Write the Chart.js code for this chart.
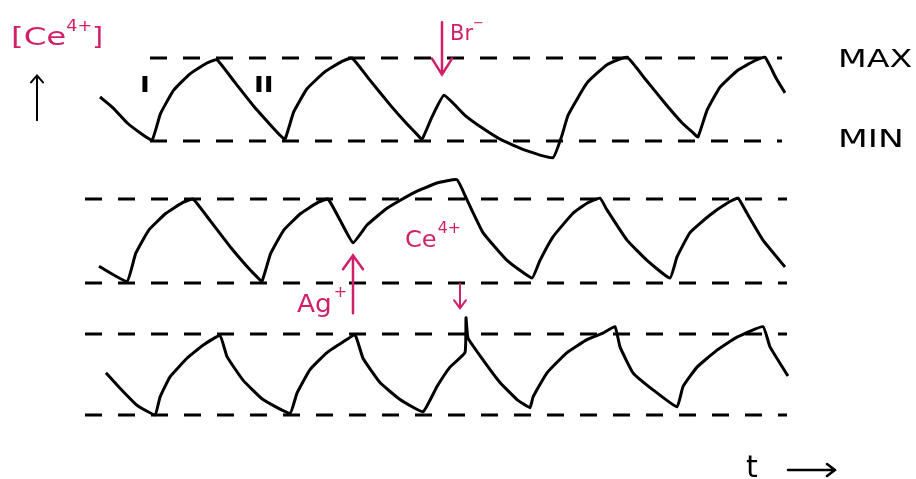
<!DOCTYPE html>
<html>
<head>
<meta charset="utf-8">
<title>[Ce4+] oscillations</title>
<script src="https://cdn.jsdelivr.net/npm/chart.js@4.4.0/dist/chart.umd.min.js"></script>
<style>
  html, body { margin: 0; padding: 0; background: #fff; }
  #wrap { width: 916px; height: 479px; position: relative; }
</style>
</head>
<body>
<div id="wrap"><canvas id="osc"></canvas></div>
<script>
// time (arbitrary units) and [Ce4+] level, 0 = MIN, 1 = MAX
// trace 1 : plain oscillation, Br- added
const t1 = [10.0, 11.3, 12.7, 14.0, 15.2, 16.05, 17.35, 19.0, 20.7, 21.7, 23.4, 25.44, 27.0, 28.0, 28.5,
            29.37, 30.7, 32.45, 34.2, 35.2, 36.95, 39.05, 40.66, 41.7, 42.2, 43.2, 44.4, 46.5, 48.2, 50.2,
            52.5, 55.3, 56.2, 56.8, 58.7, 60.7, 62.7, 64.5, 66.6, 68.2, 69.3, 69.8, 70.7, 72.0, 73.75,
            75.5, 76.5, 77.6, 78.5];
const c1 = [0.53, 0.40, 0.22, 0.10, 0.01, 0.33, 0.61, 0.81, 0.94, 0.98, 0.72, 0.41, 0.20, 0.07, 0.02,
            0.35, 0.63, 0.83, 0.96, 1.00, 0.74, 0.43, 0.21, 0.08, 0.02, 0.29, 0.55, 0.31, 0.16, 0.01,
            -0.11, -0.20, 0.07, 0.31, 0.70, 0.92, 1.01, 0.75, 0.44, 0.22, 0.10, 0.05, 0.37, 0.65, 0.85,
            0.97, 1.01, 0.76, 0.58];

// trace 2 : Ag+ added
const t2 = [9.9, 12.7, 13.56, 14.88, 16.6, 18.3, 19.3, 21.03, 23.1, 24.68, 25.72, 26.2, 27.06, 28.38,
            30.1, 31.8, 32.8, 34.0, 35.3, 36.7, 38.7, 41.3, 43.7, 45.7, 46.7, 48.3, 50.7, 53.2, 54.0,
            55.3, 57.3, 58.7, 60.0, 60.7, 62.7, 64.7, 67.0, 67.7, 69.0, 71.0, 72.7, 73.8, 74.7, 76.3, 78.5];
const c2 = [0.20, 0.02, 0.35, 0.63, 0.83, 0.96, 1.00, 0.74, 0.42, 0.20, 0.07, 0.02, 0.35, 0.63,
            0.83, 0.96, 1.00, 0.75, 0.48, 0.69, 0.89, 1.07, 1.19, 1.23, 0.99, 0.60, 0.27, 0.06, 0.27,
            0.55, 0.83, 0.95, 1.01, 0.87, 0.51, 0.27, 0.06, 0.31, 0.60, 0.81, 0.95, 1.01, 0.83, 0.51, 0.19];

// trace 3 : Ce4+ added
const t3 = [10.6, 12.0, 13.7, 15.5, 16.0, 17.0, 18.7, 20.3, 22.0, 22.7, 24.3, 26.3, 29.0, 29.7, 31.0,
            32.7, 34.3, 35.5, 36.3, 38.0, 40.0, 42.3, 43.7, 45.0, 46.5, 46.6, 46.8, 48.3, 50.0, 51.7,
            53.0, 53.3, 54.7, 56.7, 58.7, 60.3, 61.5, 62.0, 63.3, 65.3, 67.7, 68.3, 69.7, 71.7, 73.7,
            76.3, 77.0, 78.8];
const c3 = [0.52, 0.33, 0.12, 0.00, 0.22, 0.47, 0.70, 0.86, 0.98, 0.72, 0.43, 0.19, 0.02, 0.27, 0.56,
            0.77, 0.90, 0.99, 0.70, 0.40, 0.19, 0.04, 0.35, 0.59, 0.77, 1.20, 0.95, 0.68, 0.40, 0.19,
            0.09, 0.22, 0.52, 0.77, 0.93, 1.01, 1.09, 0.84, 0.52, 0.31, 0.10, 0.35, 0.59, 0.80, 0.96,
            1.09, 0.84, 0.48];

// MAX / MIN guide lines of each trace (time where they start / stop)
const guideStart = [15.0, 8.5, 8.5];
const guideEnd   = [78.2, 78.7, 78.7];
const guideLevels = [1, 0];

const magenta = '#d0206a';
const axisIds = ['y1', 'y2', 'y3'];

function zip(ts, cs) {
    return ts.map((t, i) => ({ x: t, y: cs[i] }));
}

const datasets = [];
[[t1, c1], [t2, c2], [t3, c3]].forEach((tr, i) => {
    datasets.push({
        data: zip(tr[0], tr[1]),
        yAxisID: axisIds[i],
        borderColor: '#000',
        borderWidth: 3,
        pointRadius: 0,
        tension: 0.12,
        borderJoinStyle: 'round',
        order: 0
    });
    guideLevels.forEach(lv => {
        datasets.push({
            data: [{ x: guideStart[i], y: lv }, { x: guideEnd[i], y: lv }],
            yAxisID: axisIds[i],
            borderColor: '#000',
            borderWidth: 3,
            borderDash: [17, 16],
            pointRadius: 0,
            order: 1
        });
    });
});

// draw a line with an open V head at (x2,y2)
function arrow(ctx, x1, y1, x2, y2, len, half, color, lw) {
    const a = Math.atan2(y2 - y1, x2 - x1);
    ctx.save();
    ctx.strokeStyle = color;
    ctx.lineWidth = lw;
    ctx.lineCap = 'round';
    ctx.beginPath();
    ctx.moveTo(x1, y1);
    ctx.lineTo(x2, y2);
    ctx.moveTo(x2 - len * Math.cos(a) + half * Math.sin(a), y2 - len * Math.sin(a) - half * Math.cos(a));
    ctx.lineTo(x2, y2);
    ctx.lineTo(x2 - len * Math.cos(a) - half * Math.sin(a), y2 - len * Math.sin(a) + half * Math.cos(a));
    ctx.stroke();
    ctx.restore();
}

function write(ctx, str, x, y, size, color, sx, weight) {
    ctx.save();
    ctx.translate(x, y);
    ctx.scale(sx || 1, 1);
    ctx.font = (weight || 'normal') + ' ' + size + 'px "DejaVu Sans"';
    ctx.fillStyle = color;
    ctx.textBaseline = 'alphabetic';
    ctx.textAlign = 'left';
    ctx.fillText(str, 0, 0);
    const w = ctx.measureText(str).width * (sx || 1);
    ctx.restore();
    return w;
}

const notesPlugin = {
    id: 'notes',
    afterDatasetsDraw(chart) {
        const ctx = chart.ctx;
        const X = v => chart.scales.x.getPixelForValue(v);
        const Y = (ax, v) => chart.scales[ax].getPixelForValue(v);

        // y axis label
        let x = X(1.1);
        x += write(ctx, '[Ce', x, Y('y1', 1.16), 25, magenta, 1.3);
        x += write(ctx, '4+', x, Y('y1', 1.32), 16, magenta, 1.1);
        write(ctx, ']', x, Y('y1', 1.16), 25, magenta, 1.1);
        arrow(ctx, X(3.7), Y('y1', 0.25), X(3.7), Y('y1', 0.79), 7, 6, '#000', 2);

        // period labels
        write(ctx, 'I', X(14.0), Y('y1', 0.59), 22, '#000', 1.2, 'bold');
        write(ctx, 'II', X(25.4), Y('y1', 0.59), 22, '#000', 1.2, 'bold');

        // MAX / MIN
        write(ctx, 'MAX', X(83.8), Y('y1', 0.89), 25, '#000', 1.33);
        write(ctx, 'MIN', X(83.8), Y('y1', -0.07), 25, '#000', 1.38);

        // Br- addition
        arrow(ctx, X(44.2), Y('y1', 1.43), X(44.2), Y('y1', 0.80), 16, 10, magenta, 2.5);
        x = X(45.0);
        x += write(ctx, 'Br', x, Y('y1', 1.22), 21, magenta, 1.0);
        write(ctx, '\u2212', x, Y('y1', 1.37), 13, magenta, 1.0);

        // Ag+ addition
        arrow(ctx, X(35.3), Y('y2', -0.36), X(35.3), Y('y2', 0.33), 14, 10, magenta, 2.5);
        x = X(29.7);
        x += write(ctx, 'Ag', x, Y('y2', -0.34), 24, magenta, 1.1);
        write(ctx, '+', x + 2, Y('y2', -0.17), 16, magenta, 1.0);

        // Ce4+ addition
        x = X(40.5);
        x += write(ctx, 'Ce', x, Y('y2', 0.43), 23, magenta, 1.05);
        write(ctx, '4+', x + 1, Y('y2', 0.60), 15, magenta, 1.05);
        arrow(ctx, X(46.0), Y('y2', -0.01), X(46.0), Y('y2', -0.30), 8, 6, magenta, 2);

        // time axis
        write(ctx, 't', X(74.6), Y('y3', -0.77), 30, '#000', 1.0);
        arrow(ctx, X(78.8), Y('y3', -0.68), X(83.5), Y('y3', -0.68), 8, 6, '#000', 2.5);
    }
};

const ctx = document.getElementById('osc').getContext('2d');
const chart = new Chart(ctx, {
    type: 'line',
    data: { datasets: datasets },
    options: {
        responsive: true,
        maintainAspectRatio: false,
        animation: false,
        devicePixelRatio: 1,
        layout: { padding: 0 },
        plugins: { legend: { display: false }, tooltip: { enabled: false }, title: { display: false } },
        scales: {
            x:  { type: 'linear', display: false, min: 0, max: 91.6 },
            y1: { type: 'linear', display: false, min: -4.072, max: 1.699 },
            y2: { type: 'linear', display: false, min: -2.333, max: 3.369 },
            y3: { type: 'linear', display: false, min: -0.791, max: 5.123 }
        }
    },
    plugins: [notesPlugin]
});
</script>
</body>
</html>
